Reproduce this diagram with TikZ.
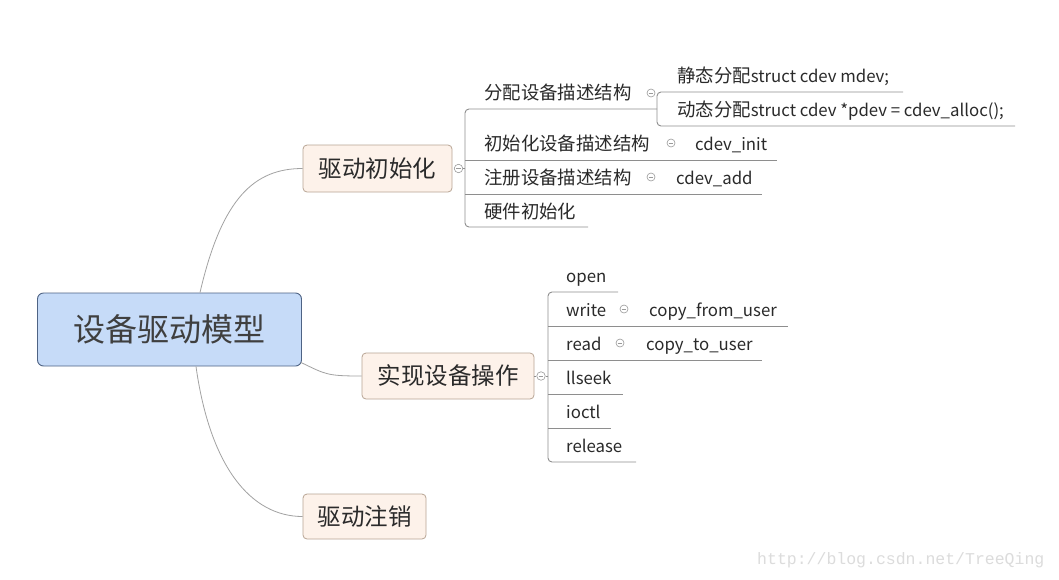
\documentclass[tikz,border=0pt]{standalone}
\usepackage{fontspec}
\newfontfamily\cjk{Noto Sans CJK SC}
\newfontfamily\wmfont{Liberation Mono}
\newcommand\lat[1]{{\fontsize{16.8}{20}\selectfont #1}}
\definecolor{rootfill}{HTML}{C6DBF8}
\definecolor{rootborder}{HTML}{4E6384}
\definecolor{mainfill}{HTML}{FDF2EA}
\definecolor{mainborder}{HTML}{B8A594}
\definecolor{txt}{HTML}{2A2A2A}
\definecolor{linkgray}{HTML}{A2A2A2}
\definecolor{branchgray}{HTML}{8E8E8E}
\definecolor{foldgray}{HTML}{9A9A9A}
\definecolor{wmgray}{HTML}{DCDCDC}
\begin{document}
\begin{tikzpicture}[x=1pt,y=-1pt,
  every node/.style={text=txt},
  rootbox/.style={draw=rootborder, fill=rootfill, rounded corners=6pt, line width=0.9pt,
    minimum width=264pt, minimum height=73pt, inner sep=0pt,
    font=\cjk\fontsize{32}{36}\selectfont, text=txt!90},
  mainbox/.style={draw=mainborder, fill=mainfill, rounded corners=4pt, line width=0.8pt,
    inner sep=0pt, font=\cjk\fontsize{23.5}{26}\selectfont},
  leaf/.style={anchor=west, inner sep=0pt, text height=16.2pt, text depth=2.2pt,
    font=\cjk\fontsize{18.4}{20}\selectfont},
  link/.style={draw=linkgray, line width=0.8pt},
  branch/.style={draw=branchgray, line width=0.9pt, rounded corners=4pt},
  fold/.style={circle, draw=foldgray, fill=white, minimum size=8.5pt, inner sep=0pt, line width=0.6pt,
    path picture={\draw[foldgray,line width=0.7pt]
      ([xshift=-2.3pt]path picture bounding box.center) -- ([xshift=2.3pt]path picture bounding box.center);}},
]
\useasboundingbox[fill=white] (0,0) rectangle (1059,579);

% main nodes
\node[rootbox] (root) at (169.5,329.5) {设备驱动模型};
\node[mainbox, minimum width=149pt, minimum height=47pt] (init) at (377.5,168.5) {驱动初始化};
\node[mainbox, minimum width=172pt, minimum height=46pt] (impl) at (448,376) {实现设备操作};
\node[mainbox, minimum width=123pt, minimum height=45pt] (unreg) at (364.5,516.5) {驱动注销};

% links from root
\draw[link] ([xshift=30.5pt]root.north) .. controls +(22,-95) and +(-48,0) .. (init.west);
\draw[link] ([shift={(-1pt,4pt)}]root.south east) .. controls +(25,12) and +(-35,0) .. (impl.west);
\draw[link] ([xshift=26.5pt]root.south) .. controls +(14,100) and +(-52,0) .. (unreg.west);

% ---------- 驱动初始化 group ----------
\node[fold] (f1) at (458.5,168.5) {};
\coordinate (t1top) at (465,109);
\coordinate (t1bot) at (465,227);
\draw[branch] (f1.east) -- (f1.east -| t1top);

\node[leaf] (a1) at (484,92) {分配设备描述结构};
\node[leaf] (a2) at (484,143) {初始化设备描述结构};
\node[leaf] (a3) at (484,177) {注册设备描述结构};
\node[leaf] (a4) at (484,211) {硬件初始化};

\coordinate (a1e) at (657,109);
\coordinate (a2e) at (777,160);
\coordinate (a3e) at (762,194);
\coordinate (a4e) at (588,227);
\draw[branch] (a1e) -- (t1top) -- (t1bot) -- (a4e);
\draw[branch] (t1top |- a2e) -- (a2e);
\draw[branch] (t1top |- a3e) -- (a3e);

% grandchildren of a1
\node[fold, minimum size=8pt] (g1) at (651,93) {};
\node[leaf] (b1) at (677,75) {静态分配\lat{struct cdev mdev;}};
\node[leaf] (b2) at (677,109) {动态分配\lat{struct cdev *pdev = cdev\_alloc();}};
\coordinate (b1e) at (903,92);
\coordinate (b2e) at (1015,126);
\draw[branch] (b1e) -- (657,92) -- (657,126) -- (b2e);

% grandchildren of a2, a3
\node[fold, minimum size=8pt] (g2) at (671,143) {};
\node[leaf] (c1) at (695,143) {\lat{cdev\_init}};
\node[fold, minimum size=8pt] (g3) at (651,177) {};
\node[leaf] (c2) at (676,177) {\lat{cdev\_add}};

% ---------- 实现设备操作 group ----------
\node[fold] (f2) at (541,376) {};
\coordinate (t2top) at (548,292);
\coordinate (t2bot) at (548,462);
\draw[branch] (impl.east) -- (f2.west);
\draw[branch] (f2.east) -- (f2.east -| t2top);

\node[leaf] (o1) at (566,275) {\lat{open}};
\node[leaf] (o2) at (566,309) {\lat{write}};
\node[leaf] (o3) at (566,343) {\lat{read}};
\node[leaf] (o4) at (566,377) {\lat{llseek}};
\node[leaf] (o5) at (566,411) {\lat{ioctl}};
\node[leaf] (o6) at (566,445) {\lat{release}};

\coordinate (o1e) at (618,292);
\coordinate (o2e) at (788,326);
\coordinate (o3e) at (762,360);
\coordinate (o4e) at (623,394);
\coordinate (o5e) at (611,428);
\coordinate (o6e) at (636,462);
\draw[branch] (o1e) -- (t2top) -- (t2bot) -- (o6e);
\draw[branch] (t2top |- o2e) -- (o2e);
\draw[branch] (t2top |- o3e) -- (o3e);
\draw[branch] (t2top |- o4e) -- (o4e);
\draw[branch] (t2top |- o5e) -- (o5e);

\node[fold, minimum size=8pt] (g4) at (624,309) {};
\node[leaf] (d1) at (649,309) {\lat{copy\_from\_user}};
\node[fold, minimum size=8pt] (g5) at (620,343) {};
\node[leaf] (d2) at (646,343) {\lat{copy\_to\_user}};

% watermark
\node[anchor=west, inner sep=0pt, text=wmgray, font=\wmfont\fontsize{16.5}{18}\selectfont] (wm) at (757,560) {http://blog.csdn.net/TreeQing};
\end{tikzpicture}
\end{document}
